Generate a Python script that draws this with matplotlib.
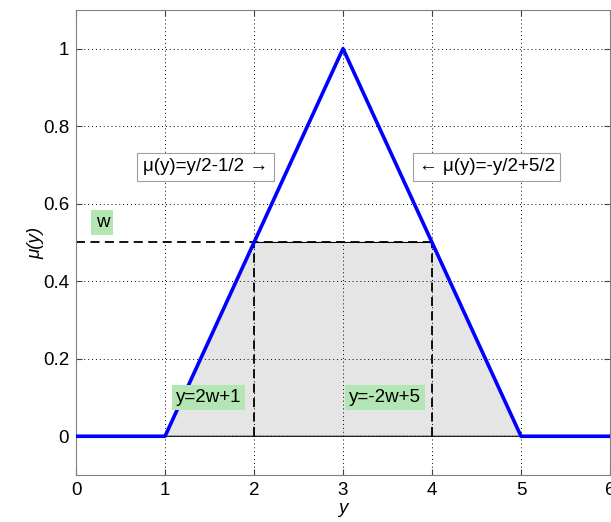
import matplotlib
matplotlib.use("Agg")
import matplotlib.pyplot as plt

plt.rcParams['font.family'] = ['Liberation Sans', 'DejaVu Sans']

# Data
mf_x = [0, 1, 3, 5, 6]
mf_y = [0, 0, 1, 0, 0]
w_level = 0.5
trap_x = [1, 2, 4, 5]
trap_y = [0, 0.5, 0.5, 0]
cut_left = 2
cut_right = 4
x_ticks = [0, 1, 2, 3, 4, 5, 6]
y_ticks = [0, 0.2, 0.4, 0.6, 0.8, 1]
y_tick_labels = ['0', '0.2', '0.4', '0.6', '0.8', '1']

FS = 13.5

fig = plt.figure(figsize=(6.11, 5.22), dpi=100)
ax = fig.add_axes([0.1244, 0.09, 0.874, 0.891])

ax.fill(trap_x, trap_y, facecolor='#e5e5e5', edgecolor='black', linewidth=0.8, zorder=1)
dash = (0, (5, 3))
ax.plot([0, cut_right], [w_level, w_level], color='black', linestyle=dash, linewidth=1.3, zorder=2)
ax.plot([cut_left, cut_left], [0, w_level], color='black', linestyle=dash, linewidth=1.3, zorder=2)
ax.plot([cut_right, cut_right], [0, w_level], color='black', linestyle=dash, linewidth=1.3, zorder=2)
ax.plot(mf_x, mf_y, color='#0000ff', linewidth=2.6, zorder=3)

ax.set_xlim(0, 6)
ax.set_ylim(-0.1, 1.1)
ax.set_xticks(x_ticks)
ax.set_yticks(y_ticks)
ax.set_yticklabels(y_tick_labels)
ax.tick_params(direction='in', top=True, right=True, labelsize=FS, length=4, color='#404040', pad=5)
ax.grid(True, linestyle=(0, (1, 3)), color='black', linewidth=0.7)
for s in ax.spines.values():
    s.set_color('#808080')

ax.set_xlabel('y', style='italic', fontsize=FS, labelpad=1)
ax.set_ylabel('μ(y)', fontsize=FS, labelpad=-1)
ax.yaxis.label.set_style('italic')

box_white = dict(boxstyle='square,pad=0.3', facecolor='white', edgecolor='#a0a0a0', linewidth=0.8)
box_green = dict(boxstyle='square,pad=0.22', facecolor='#b3e6b3', edgecolor='none')

ax.text(0.75, 0.695, 'μ(y)=y/2-1/2 →', fontsize=FS, va='center', ha='left', bbox=box_white, zorder=5)
ax.text(3.85, 0.695, '← μ(y)=-y/2+5/2', fontsize=FS, va='center', ha='left', bbox=box_white, zorder=5)
ax.text(0.22, 0.552, 'w', fontsize=FS, va='center', ha='left', bbox=box_green, zorder=5)
ax.text(1.12, 0.1, 'y=2w+1', fontsize=FS, va='center', ha='left', bbox=box_green, zorder=5)
ax.text(3.07, 0.1, 'y=-2w+5', fontsize=FS, va='center', ha='left', bbox=box_green, zorder=5)

fig.savefig('out.png', dpi=100)
